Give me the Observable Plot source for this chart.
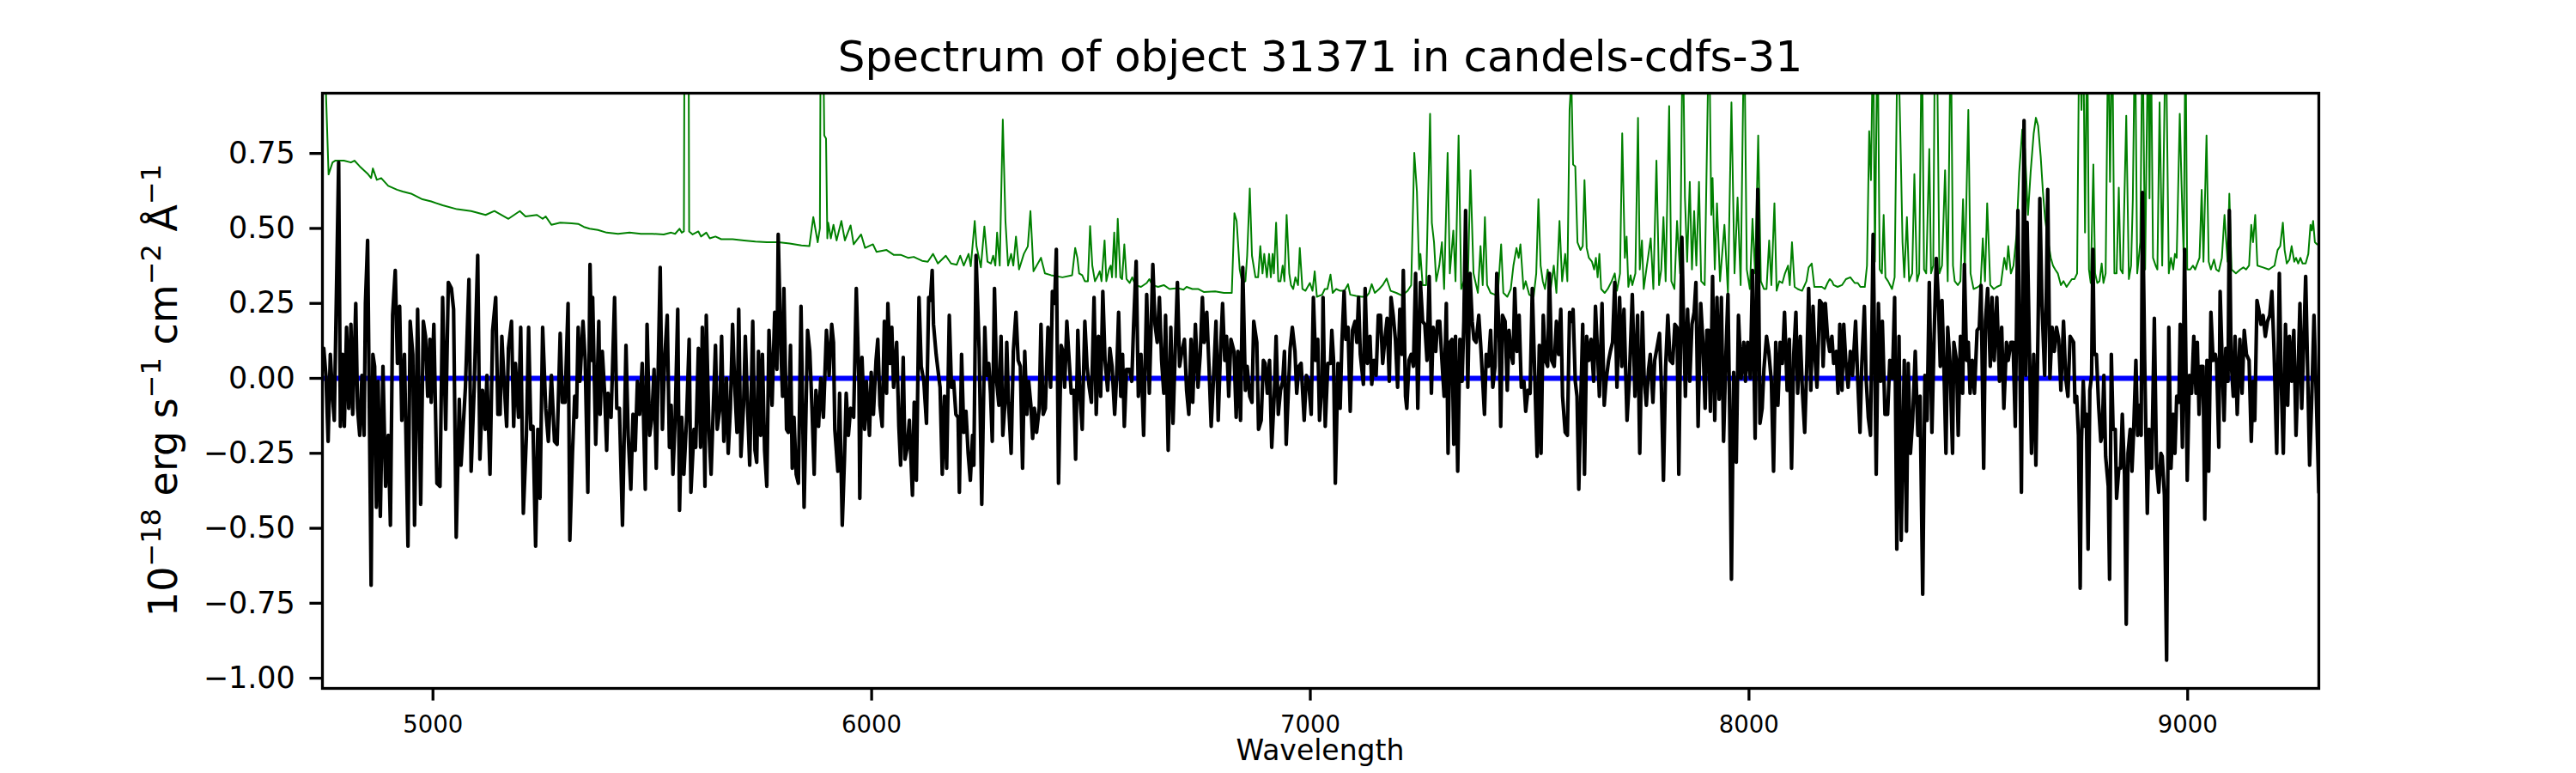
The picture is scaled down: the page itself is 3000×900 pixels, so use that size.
<!DOCTYPE html>
<html>
<head>
<meta charset="utf-8">
<script src="https://cdn.jsdelivr.net/npm/d3@7"></script>
<script src="https://cdn.jsdelivr.net/npm/@observablehq/plot@0.6"></script>
<style>
  html, body { margin: 0; padding: 0; background: white; }
  #chart svg { display: block; }
</style>
</head>
<body>
<div id="chart"></div>
<script>
// ---------- DATA ----------
const chartTitle = "Spectrum of object 31371 in candels-cdfs-31";
const xLabel = "Wavelength";
const xTicks = [5000, 6000, 7000, 8000, 9000];
const yTicks = [-1.0, -0.75, -0.5, -0.25, 0.0, 0.25, 0.5, 0.75];
const zeroLevel = [0];

// observed spectrum [wavelength, flux]
const observedSpectrum = [
[4751,0.10],[4756,0.01],[4761,-0.21],[4766,0.08],[4771,-0.06],[4775,-0.14],[4785,0.72],[4789,-0.16],[4794,0.08],[4798,-0.16],[4803,0.17],[4808,-0.10],[4813,0.18],[4817,-0.12],[4820,0.04],[4824,0.25],[4828,-0.10],[4833,-0.19],[4838,0.01],[4843,-0.19],[4846,0.25],[4851,0.46],[4854,0.04],[4859,-0.69],[4863,0.08],[4867,0.04],[4871,-0.43],[4875,-0.01],[4880,-0.46],[4886,0.04],[4892,-0.36],[4898,-0.19],[4903,-0.49],[4908,0.21],[4914,0.36],[4919,0.05],[4924,0.24],[4929,-0.14],[4935,0.08],[4943,-0.56],[4948,0.19],[4954,0.08],[4958,-0.49],[4965,0.23],[4972,-0.42],[4978,0.19],[4983,0.14],[4988,-0.06],[4993,0.13],[4996,-0.08],[5002,0.18],[5009,-0.35],[5016,-0.36],[5022,0.27],[5029,-0.17],[5035,0.32],[5042,0.30],[5047,0.23],[5053,-0.53],[5060,-0.07],[5064,-0.29],[5069,-0.16],[5074,-0.03],[5082,0.33],[5087,-0.31],[5094,-0.03],[5102,0.41],[5107,-0.27],[5113,-0.04],[5119,-0.17],[5123,0.01],[5130,-0.32],[5136,0.16],[5143,0.27],[5148,-0.12],[5153,-0.12],[5157,0.14],[5162,-0.01],[5168,-0.16],[5172,0.10],[5179,0.19],[5184,-0.16],[5188,0.05],[5195,-0.13],[5200,0.17],[5206,-0.45],[5213,-0.19],[5218,0.17],[5223,-0.17],[5228,-0.16],[5234,-0.56],[5239,-0.17],[5244,-0.40],[5250,0.17],[5257,-0.10],[5263,-0.21],[5270,0.01],[5277,-0.21],[5283,-0.22],[5290,0.15],[5295,-0.08],[5301,-0.08],[5308,0.25],[5312,-0.54],
[5318,-0.25],[5323,-0.06],[5327,-0.13],[5331,0.17],[5335,-0.01],[5342,0.19],[5347,0.06],[5353,-0.38],[5358,0.38],[5362,0.06],[5364,0.27],[5371,-0.22],[5378,0.19],[5381,-0.12],[5386,0.09],[5391,-0.04],[5396,-0.24],[5399,-0.05],[5406,-0.13],[5414,0.27],[5419,-0.10],[5425,-0.10],[5432,-0.49],[5440,0.11],[5445,-0.19],[5451,-0.37],[5456,-0.12],[5461,-0.24],[5466,-0.01],[5471,-0.12],[5477,0.05],[5484,-0.37],[5488,0.18],[5494,-0.19],[5499,-0.13],[5504,0.03],[5509,-0.30],[5513,0.00],[5518,0.37],[5523,-0.17],[5528,0.06],[5534,0.21],[5539,-0.23],[5543,-0.09],[5547,-0.32],[5552,-0.14],[5558,0.23],[5562,-0.44],[5567,-0.13],[5572,-0.32],[5578,-0.14],[5584,0.13],[5588,-0.38],[5595,-0.17],[5599,-0.23],[5605,0.10],[5610,-0.23],[5614,0.17],[5620,-0.36],[5623,0.21],[5629,-0.17],[5634,-0.32],[5639,-0.10],[5644,0.11],[5648,-0.17],[5654,-0.10],[5658,0.14],[5663,-0.21],[5669,0.00],[5673,-0.25],[5678,-0.10],[5683,0.18],[5688,-0.03],[5693,-0.18],[5697,0.23],[5702,-0.26],[5708,-0.09],[5712,0.14],[5717,-0.09],[5722,-0.29],[5729,0.19],[5734,-0.24],[5738,-0.28],[5742,0.09],[5747,-0.19],[5751,0.08],[5756,-0.24],[5761,-0.36],[5766,0.16],[5773,-0.09],[5779,0.22],[5784,0.03],[5787,0.48],[5793,0.10],[5797,-0.06],[5800,0.30],[5806,-0.17],[5810,-0.18],[5815,0.11],[5819,-0.30],[5823,-0.13],[5828,-0.32],[5833,-0.35],[5839,0.24],[5846,-0.43],[5854,0.16],[5859,0.09],[5864,-0.10],[5869,-0.32],[5873,-0.04],[5879,-0.16],[5884,0.00],
[5890,-0.13],[5897,0.16],[5903,0.01],[5909,0.18],[5913,0.12],[5916,-0.17],[5923,-0.31],[5927,-0.05],[5933,-0.49],[5938,-0.27],[5942,-0.05],[5947,-0.19],[5952,-0.10],[5959,-0.13],[5965,0.30],[5971,-0.01],[5973,-0.40],[5978,0.07],[5984,-0.17],[5988,-0.01],[5995,-0.19],[5999,0.02],[6004,-0.12],[6010,0.06],[6014,0.13],[6019,-0.09],[6024,-0.16],[6029,0.19],[6034,-0.05],[6037,0.25],[6042,0.05],[6046,0.17],[6050,-0.03],[6057,0.12],[6062,-0.16],[6066,-0.29],[6072,0.07],[6076,-0.27],[6081,-0.23],[6086,-0.14],[6093,-0.39],[6097,-0.08],[6102,-0.34],[6108,0.27],[6113,0.04],[6119,-0.01],[6125,-0.15],[6130,0.27],[6134,0.26],[6138,0.36],[6141,0.18],[6147,0.08],[6151,0.03],[6156,-0.03],[6161,-0.32],[6166,-0.06],[6171,-0.30],[6174,-0.04],[6177,0.21],[6182,-0.03],[6187,-0.01],[6192,-0.12],[6197,-0.13],[6200,-0.38],[6205,0.08],[6210,-0.18],[6215,-0.11],[6220,-0.25],[6225,-0.34],[6230,-0.19],[6233,-0.29],[6238,0.41],[6245,0.10],[6251,-0.42],[6258,0.17],[6262,0.01],[6267,0.05],[6271,-0.05],[6275,-0.21],[6280,0.30],[6285,-0.01],[6290,-0.09],[6295,0.14],[6299,-0.19],[6305,-0.06],[6308,0.12],[6312,-0.08],[6318,-0.25],[6323,0.09],[6329,0.22],[6334,0.06],[6339,0.04],[6344,-0.30],[6349,0.09],[6354,-0.12],[6358,-0.01],[6363,-0.09],[6367,-0.20],[6371,-0.10],[6376,-0.18],[6382,-0.10],[6386,0.18],[6391,-0.12],[6396,-0.10],[6402,0.17],[6408,-0.03],[6412,0.29],[6417,0.25],[6421,0.43],[6426,-0.35],[6432,0.11],[6436,0.09],[6440,-0.03],[6445,0.19],[6449,0.09],[6455,-0.05],
[6461,-0.04],[6465,-0.27],[6470,0.16],[6475,-0.06],[6480,-0.17],[6486,0.19],[6491,0.04],[6496,-0.03],[6501,-0.08],[6507,0.27],[6512,-0.12],[6517,0.14],[6522,-0.06],[6527,0.29],[6532,0.06],[6538,-0.04],[6543,0.10],[6548,0.04],[6554,-0.12],[6558,-0.01],[6563,0.22],[6568,-0.06],[6572,0.08],[6576,-0.16],[6581,0.03],[6588,0.03],[6593,-0.01],[6597,0.17],[6603,0.39],[6608,-0.06],[6614,0.08],[6620,-0.19],[6627,0.28],[6633,-0.05],[6641,0.38],[6646,0.18],[6651,0.12],[6656,0.27],[6661,0.06],[6666,-0.05],[6670,0.21],[6676,-0.24],[6682,0.17],[6687,-0.15],[6692,0.09],[6697,0.32],[6702,0.04],[6706,0.08],[6713,0.13],[6718,-0.04],[6723,-0.12],[6728,0.13],[6732,-0.08],[6738,0.18],[6744,-0.03],[6749,0.08],[6754,0.27],[6758,0.12],[6764,0.22],[6769,0.04],[6774,-0.16],[6779,-0.01],[6785,0.19],[6790,-0.14],[6795,0.08],[6800,0.25],[6805,0.06],[6809,0.14],[6814,-0.06],[6819,0.13],[6826,0.09],[6831,-0.13],[6835,0.09],[6841,-0.14],[6846,0.37],[6852,-0.04],[6856,0.04],[6862,-0.06],[6867,-0.08],[6871,0.19],[6878,0.12],[6882,-0.17],[6888,-0.14],[6893,0.06],[6897,0.05],[6902,-0.05],[6907,0.06],[6912,-0.23],[6918,-0.05],[6922,0.14],[6927,-0.12],[6932,-0.04],[6937,-0.01],[6941,0.09],[6945,-0.22],[6950,-0.04],[6954,0.10],[6959,0.17],[6965,0.09],[6969,-0.05],[6974,0.04],[6979,0.05],[6986,-0.14],[6991,0.01],[6996,-0.01],[7002,-0.12],[7007,0.27],[7012,0.06],[7017,0.13],[7021,-0.14],[7027,-0.01],
[7029,0.27],[7034,-0.16],[7040,0.05],[7046,0.05],[7049,0.16],[7053,0.06],[7057,-0.35],[7063,0.05],[7068,-0.10],[7072,0.12],[7077,0.29],[7081,0.13],[7086,0.17],[7091,-0.11],[7096,0.16],[7102,0.19],[7106,0.12],[7110,0.27],[7114,0.08],[7121,-0.02],[7125,0.30],[7130,0.05],[7136,0.14],[7140,-0.02],[7145,0.06],[7150,0.01],[7155,0.21],[7160,0.21],[7165,0.05],[7170,0.13],[7175,0.20],[7180,-0.01],[7184,0.27],[7189,0.21],[7194,0.13],[7199,-0.03],[7204,0.23],[7209,0.08],[7212,0.36],[7217,-0.06],[7220,-0.10],[7225,0.06],[7230,0.08],[7235,0.04],[7240,0.35],[7245,-0.10],[7251,0.32],[7256,0.19],[7261,0.18],[7266,0.06],[7271,0.34],[7276,-0.05],[7280,0.17],[7286,0.09],[7290,0.19],[7295,0.19],[7300,0.06],[7305,-0.06],[7310,0.25],[7314,-0.25],[7318,0.12],[7323,0.13],[7327,-0.22],[7331,0.14],[7336,-0.31],[7341,0.13],[7346,-0.01],[7350,0.19],[7354,0.56],[7359,-0.03],[7364,0.35],[7369,0.19],[7373,0.13],[7378,0.12],[7384,0.21],[7388,0.12],[7393,-0.01],[7397,-0.12],[7401,0.08],[7406,0.04],[7411,0.16],[7416,-0.03],[7421,0.04],[7425,0.35],[7431,0.12],[7434,-0.16],[7438,0.21],[7444,0.19],[7449,-0.04],[7453,0.16],[7458,0.08],[7462,0.05],[7466,0.30],[7471,0.09],[7476,0.21],[7481,-0.03],[7487,-0.01],[7491,-0.11],[7496,-0.04],[7501,-0.05],[7506,0.30],[7510,0.09],[7517,-0.26],[7522,0.11],[7526,-0.25],[7531,0.21],[7536,0.06],[7541,0.04],[7545,0.35],[7550,0.06],[7556,0.04],[7561,0.19],[7566,0.08],[7571,0.23],[7575,-0.06],[7581,-0.18],[7586,-0.19],[7591,0.22],[7596,0.19],
[7599,0.23],[7604,-0.01],[7608,-0.06],[7612,-0.37],[7617,-0.05],[7621,0.18],[7625,-0.32],[7630,0.14],[7635,0.06],[7640,0.13],[7646,-0.01],[7650,0.24],[7655,0.08],[7659,-0.06],[7665,0.25],[7670,-0.09],[7674,-0.01],[7680,0.06],[7684,0.09],[7689,0.12],[7694,0.32],[7699,-0.03],[7705,0.27],[7710,0.04],[7715,0.23],[7722,-0.14],[7727,-0.01],[7734,0.28],[7740,-0.06],[7746,0.21],[7751,-0.25],[7757,0.22],[7761,0.00],[7766,-0.09],[7771,0.03],[7775,0.08],[7781,-0.08],[7785,0.06],[7790,0.10],[7796,0.15],[7800,-0.01],[7805,-0.34],[7810,0.04],[7815,0.21],[7820,0.06],[7826,0.05],[7831,0.18],[7836,0.17],[7840,-0.32],[7847,0.47],[7850,0.25],[7855,-0.06],[7860,0.23],[7865,-0.01],[7870,0.18],[7875,0.22],[7879,0.32],[7884,-0.16],[7890,0.25],[7895,0.12],[7900,-0.10],[7904,0.16],[7908,0.16],[7912,-0.11],[7917,0.34],[7922,-0.14],[7927,0.27],[7932,-0.07],[7937,0.27],[7942,-0.21],[7947,0.06],[7952,0.28],[7956,-0.12],[7960,-0.67],[7965,0.02],[7971,-0.28],[7976,0.21],[7982,0.00],[7988,0.12],[7992,-0.01],[7997,0.12],[8003,0.00],[8008,0.36],[8014,-0.20],[8020,0.63],[8025,-0.15],[8030,-0.10],[8034,0.03],[8040,0.14],[8045,0.09],[8051,-0.01],[8056,-0.31],[8061,0.12],[8066,-0.09],[8071,0.12],[8076,0.05],[8081,0.22],[8087,-0.04],[8092,0.13],[8097,-0.30],[8102,0.08],[8107,0.22],[8111,-0.05],[8117,0.14],[8122,-0.05],[8127,-0.18],[8132,0.06],[8136,0.30],[8141,-0.04],[8146,0.24],[8151,0.06],[8155,-0.03],[8161,0.26],
[8166,0.25],[8169,0.04],[8174,0.25],[8179,0.14],[8184,0.09],[8189,0.14],[8193,0.05],[8199,0.09],[8203,-0.05],[8207,0.18],[8212,-0.04],[8216,0.18],[8221,0.05],[8226,-0.03],[8231,0.09],[8236,0.01],[8243,0.19],[8248,-0.01],[8253,-0.18],[8257,0.04],[8263,0.24],[8267,0.00],[8272,-0.13],[8277,-0.19],[8283,0.48],[8290,-0.32],[8295,0.25],[8300,-0.01],[8304,0.19],[8310,-0.12],[8316,-0.12],[8321,0.06],[8327,0.00],[8332,0.27],[8337,-0.57],[8342,0.14],[8347,-0.54],[8354,0.06],[8359,-0.51],[8363,0.05],[8368,-0.25],[8373,-0.14],[8379,0.09],[8385,-0.19],[8390,-0.06],[8396,-0.72],[8401,0.01],[8406,-0.14],[8411,0.32],[8417,-0.18],[8422,0.14],[8427,0.40],[8432,0.25],[8436,0.04],[8440,0.26],[8444,0.06],[8449,-0.25],[8453,0.17],[8458,0.06],[8464,-0.25],[8467,0.12],[8473,0.06],[8477,-0.19],[8482,0.14],[8487,-0.05],[8491,0.38],[8496,0.06],[8500,0.12],[8504,-0.05],[8509,0.06],[8514,-0.05],[8520,0.16],[8525,0.17],[8529,0.31],[8535,-0.30],[8539,0.19],[8544,0.30],[8550,0.04],[8554,0.27],[8559,0.06],[8565,0.27],[8571,-0.01],[8576,0.17],[8581,-0.10],[8587,0.12],[8591,0.06],[8597,0.12],[8602,0.12],[8607,-0.16],[8613,0.56],[8618,0.00],[8621,-0.38],[8627,0.86],[8631,0.01],[8634,0.52],[8639,0.12],[8644,-0.25],[8649,0.08],[8654,-0.29],[8659,0.17],[8663,0.60],[8668,0.24],[8674,0.01],[8678,0.30],[8681,0.63],[8686,0.00],[8691,0.17],[8696,0.09],[8701,0.17],[8706,0.13],[8711,-0.04],[8717,0.19],[8722,0.00],[8727,-0.06],[8732,0.14],
[8740,0.12],[8743,-0.08],[8747,-0.06],[8751,-0.19],[8755,-0.70],[8758,-0.21],[8762,-0.01],[8766,-0.16],[8769,-0.12],[8773,-0.57],[8777,-0.04],[8781,0.01],[8784,0.43],[8787,0.08],[8792,0.08],[8797,-0.09],[8802,-0.21],[8805,-0.19],[8809,0.01],[8813,-0.26],[8819,-0.36],[8822,-0.67],[8826,0.08],[8830,-0.17],[8835,-0.17],[8838,-0.40],[8843,-0.30],[8847,-0.30],[8851,-0.12],[8856,-0.32],[8860,-0.82],[8864,-0.25],[8869,-0.17],[8873,-0.31],[8877,-0.17],[8882,0.06],[8886,-0.19],[8890,-0.09],[8894,-0.19],[8897,0.62],[8902,0.06],[8908,-0.45],[8912,-0.17],[8918,-0.30],[8924,0.20],[8929,-0.29],[8934,-0.38],[8939,-0.25],[8942,-0.26],[8947,-0.39],[8952,-0.94],[8957,0.17],[8962,-0.30],[8967,-0.12],[8971,-0.25],[8975,-0.06],[8980,-0.08],[8983,0.18],[8988,-0.23],[8993,0.43],[8996,0.05],[8999,-0.34],[9004,0.01],[9009,-0.05],[9014,0.14],[9019,-0.05],[9022,0.12],[9026,-0.12],[9030,0.04],[9035,0.04],[9039,-0.47],[9044,0.06],[9048,-0.31],[9053,0.22],[9058,0.06],[9063,0.08],[9066,0.05],[9071,-0.23],[9074,0.29],[9080,-0.01],[9083,-0.14],[9087,0.10],[9092,-0.01],[9095,0.56],[9099,0.06],[9104,-0.06],[9108,0.14],[9113,-0.12],[9119,0.13],[9124,-0.05],[9129,0.16],[9134,0.08],[9140,0.06],[9145,-0.21],[9149,-0.01],[9153,-0.14],[9158,0.26],[9162,0.23],[9167,0.18],[9172,0.21],[9177,0.14],[9182,0.19],[9187,0.21],[9192,0.29],[9197,0.09],[9203,-0.25],[9209,0.35],[9213,0.00],[9218,-0.25],[9223,0.18],[9228,-0.09],[9232,0.14],[9237,-0.01],[9242,0.16],[9247,-0.19],[9252,0.04],[9256,0.25],[9260,-0.10],[9265,0.14],[9269,0.34],[9273,0.06],[9278,-0.29],[9283,-0.06],[9288,0.21],[9293,-0.05],[9299,-0.38]
];

// sky / noise spectrum [wavelength, flux]
const skySpectrum = [
[4749,1.5],[4755,1.0],[4762,0.68],[4771,0.72],[4777,0.726],[4797,0.726],[4813,0.72],[4821,0.726],[4833,0.707],[4852,0.681],[4859,0.668],[4863,0.70],[4872,0.662],[4882,0.668],[4898,0.642],[4918,0.629],[4931,0.623],[4950,0.616],[4976,0.597],[4996,0.59],[5022,0.577],[5055,0.564],[5087,0.558],[5120,0.545],[5140,0.558],[5172,0.532],[5198,0.558],[5211,0.54],[5237,0.545],[5250,0.532],[5257,0.54],[5270,0.512],[5290,0.519],[5316,0.517],
[5331,0.515],[5344,0.505],[5357,0.499],[5376,0.495],[5396,0.486],[5422,0.482],[5448,0.486],[5474,0.482],[5500,0.482],[5526,0.48],[5543,0.486],[5552,0.482],[5562,0.499],[5567,0.486],[5572,0.49],[5574,1.5],[5578,3.0],[5582,1.5],[5584,0.49],[5592,0.48],[5605,0.49],[5611,0.473],[5623,0.486],[5631,0.467],[5644,0.473],[5657,0.464],[5683,0.464],[5709,0.46],[5735,0.456],[5761,0.454],[5787,0.454],[5813,0.45],[5840,0.443],[5858,0.441],[5867,0.538],[5877,0.454],[5882,0.5],[5886,2.0],[5889,1.2],[5892,0.81],[5896,0.80],[5899,0.467],
[5901,0.519],[5907,0.467],[5913,0.512],[5920,0.46],[5931,0.525],[5939,0.46],[5952,0.51],[5959,0.447],[5976,0.48],[5985,0.435],[6003,0.447],[6011,0.422],[6034,0.428],[6050,0.412],[6066,0.412],[6083,0.402],[6096,0.405],[6115,0.392],[6128,0.389],[6140,0.415],[6151,0.383],[6169,0.409],[6181,0.383],[6194,0.379],[6202,0.409],[6210,0.376],[6221,0.415],[6226,0.374],[6235,0.525],[6239,0.441],[6249,0.37],[6257,0.506],[6264,0.389],[6272,0.383],[6277,0.409],[6282,0.376],[6286,0.486],[6292,0.376],[6299,0.863],[6305,0.525],[6311,0.376],[6318,0.415],[6323,0.376],[6329,0.473],[6336,0.363],[6347,0.415],[6356,0.44],[6362,0.558],[6369,0.357],[6386,0.402],[6395,0.35],[6409,0.344],[6435,0.337],[6457,0.344],
[6464,0.435],[6469,0.402],[6473,0.35],[6480,0.344],[6486,0.324],[6493,0.324],[6498,0.508],[6503,0.376],[6509,0.324],[6514,0.337],[6520,0.357],[6524,0.324],[6531,0.46],[6535,0.324],[6541,0.363],[6545,0.376],[6548,0.337],[6553,0.486],[6557,0.337],[6561,0.532],[6567,0.337],[6571,0.331],[6576,0.447],[6581,0.331],[6588,0.318],[6594,0.337],[6601,0.311],[6614,0.305],[6627,0.318],[6633,0.331],[6640,0.311],[6653,0.305],[6666,0.311],[6679,0.298],[6698,0.301],[6711,0.296],[6718,0.305],[6731,0.298],[6744,0.298],[6757,0.288],[6783,0.29],[6803,0.285],[6821,0.285],[6827,0.551],[6832,0.525],[6839,0.363],[6845,0.318],[6852,0.324],[6856,0.409],[6862,0.633],[6867,0.409],[6875,0.337],[6881,0.337],[6886,0.441],[6891,0.35],[6895,0.415],[6901,0.337],[6906,0.415],[6910,0.337],[6914,0.415],[6917,0.35],[6922,0.519],[6927,0.324],[6932,0.324],[6937,0.376],[6941,0.324],[6946,0.545],[6952,0.35],[6956,0.311],[6961,0.298],[6966,0.337],[6972,0.311],[6976,0.435],[6982,0.298],[6989,0.292],[6999,0.318],[7005,0.292],[7010,0.357],[7015,0.272],[7027,0.279],
[7033,0.298],[7039,0.298],[7046,0.346],[7051,0.285],[7059,0.298],[7068,0.292],[7078,0.292],[7086,0.314],[7091,0.279],[7104,0.275],[7117,0.272],[7127,0.272],[7134,0.285],[7140,0.314],[7147,0.285],[7157,0.298],[7165,0.311],[7174,0.333],[7183,0.292],[7196,0.285],[7209,0.276],[7222,0.292],[7230,0.311],[7237,0.752],[7243,0.623],[7248,0.363],[7251,0.415],[7256,0.311],[7264,0.311],[7273,0.882],[7277,0.519],[7282,0.454],[7287,0.324],[7294,0.376],[7300,0.454],[7305,0.298],[7313,0.752],[7318,0.35],[7326,0.493],[7331,0.324],[7338,0.81],[7344,0.298],[7350,0.324],[7359,0.311],[7365,0.694],[7372,0.35],[7382,0.285],[7388,0.441],[7393,0.311],[7398,0.538],[7403,0.311],[7411,0.285],[7421,0.279],[7427,0.272],[7435,0.447],[7440,0.285],[7449,0.272],[7457,0.298],[7463,0.376],[7470,0.435],[7475,0.402],[7479,0.447],[7486,0.298],[7491,0.324],[7499,0.279],[7509,0.272],[7515,0.35],[7520,0.597],[7525,0.376],[7530,0.324],[7535,0.298],[7541,0.363],[7548,0.298],[7555,0.376],[7561,0.285],[7568,0.525],[7574,0.324],[7581,0.415],[7586,0.324],[7591,0.895],[7595,1.0],
[7599,0.713],[7604,0.707],[7609,0.454],[7616,0.428],[7621,0.441],[7625,0.661],[7630,0.435],[7635,0.402],[7642,0.389],[7647,0.363],[7651,0.402],[7655,0.337],[7659,0.415],[7663,0.298],[7671,0.285],[7678,0.298],[7687,0.324],[7694,0.35],[7699,0.292],[7706,0.35],[7711,0.817],[7717,0.402],[7721,0.473],[7725,0.305],[7730,0.344],[7734,0.311],[7741,0.35],[7747,0.869],[7751,0.363],[7756,0.46],[7760,0.298],[7766,0.363],[7771,0.415],[7776,0.467],[7782,0.298],[7789,0.726],[7795,0.311],[7800,0.363],[7805,0.538],[7810,0.324],[7818,0.908],[7823,0.324],[7830,0.298],[7836,0.525],[7843,0.35],[7849,1.2],[7854,0.603],[7859,0.389],[7865,0.655],[7870,0.363],[7875,0.558],[7880,0.376],[7886,0.655],[7891,0.324],[7899,0.311],[7909,1.2],[7914,0.545],[7917,0.668],[7922,0.363],[7927,0.584],[7934,0.324],[7944,0.512],[7952,0.285],[7960,0.92],[7967,0.35],[7974,0.603],[7981,0.311],[7989,1.2],[7995,0.363],[8002,0.298],[8008,0.532],[8014,0.35],[8021,0.81],[8027,0.324],[8034,0.298],[8040,0.298],[8046,0.46],[8051,0.311],[8058,0.584],[8063,0.292],[8069,0.324],[8076,0.318],[8082,0.35],[8089,0.376],[8093,0.311],[8098,0.454],[8104,0.305],[8111,0.298],[8121,0.292],[8131,0.324],[8136,0.37],[8143,0.383],[8149,0.305],[8157,0.305],[8166,0.305],
[8173,0.298],[8179,0.318],[8184,0.331],[8189,0.324],[8193,0.311],[8202,0.305],[8212,0.311],[8221,0.331],[8231,0.337],[8241,0.318],[8248,0.318],[8254,0.305],[8264,0.305],[8269,0.376],[8274,0.824],[8278,0.661],[8283,1.2],[8287,0.389],[8293,1.2],[8298,0.363],[8303,0.35],[8307,0.545],[8311,0.337],[8317,0.324],[8326,0.298],[8332,0.337],[8339,1.2],[8345,0.817],[8350,0.454],[8354,0.337],[8360,0.538],[8365,0.324],[8372,0.35],[8377,0.681],[8383,0.324],[8388,0.35],[8394,1.2],[8399,0.363],[8404,0.35],[8411,0.765],[8415,0.35],[8420,0.376],[8424,1.2],[8426,1.5],[8428,1.2],[8434,0.35],[8440,0.376],[8447,0.694],[8453,0.324],[8460,1.2],[8465,0.376],[8469,0.324],[8476,0.311],[8482,0.324],[8488,0.597],[8492,0.35],[8500,0.895],[8505,0.35],[8512,0.298],[8522,0.305],[8528,0.311],[8533,0.467],[8538,0.324],[8543,0.584],[8550,0.311],[8558,0.298],[8565,0.305],[8574,0.311],[8582,0.402],[8587,0.363],[8591,0.441],[8597,0.35],[8603,0.376],[8610,0.48],[8616,0.687],[8623,0.83],[8629,0.765],[8636,0.545],[8642,0.687],[8649,0.817],[8654,0.869],[8659,0.843],[8665,0.739],[8670,0.623],[8675,0.532],[8681,0.467],[8688,0.402],[8693,0.376],[8698,0.363],[8704,0.35],[8711,0.311],[8717,0.324],[8724,0.305],[8730,0.318],[8736,0.331],
[8742,0.331],[8748,0.35],[8753,1.2],[8758,0.895],[8762,1.2],[8766,0.486],[8771,1.2],[8775,0.363],[8779,0.318],[8785,0.713],[8789,0.35],[8794,0.318],[8799,0.324],[8804,0.383],[8808,0.318],[8813,0.35],[8819,1.2],[8823,0.655],[8828,1.2],[8833,0.35],[8838,0.35],[8843,0.636],[8847,0.363],[8852,0.35],[8860,0.876],[8866,0.331],[8871,0.376],[8875,0.597],[8880,1.2],[8885,0.35],[8892,0.454],[8897,1.2],[8903,0.363],[8910,1.2],[8913,0.6],[8916,1.2],[8921,0.402],[8927,0.376],[8931,0.363],[8936,0.92],[8942,0.376],[8950,1.2],[8957,0.35],[8962,0.402],[8967,0.363],[8971,0.415],[8975,0.402],[8982,0.882],[8986,0.648],[8991,0.402],[8995,1.2],[8999,0.363],[9006,0.363],[9012,0.376],[9017,0.363],[9022,0.383],[9027,0.402],[9032,0.629],[9036,0.389],[9043,0.81],[9048,0.389],[9053,0.363],[9060,0.396],[9065,0.363],[9071,0.357],[9078,0.402],[9084,0.545],[9091,0.389],[9095,0.616],[9100,0.363],[9110,0.35],[9120,0.363],[9127,0.37],[9133,0.363],[9140,0.376],[9145,0.512],[9149,0.454],[9154,0.545],[9159,0.376],[9172,0.37],[9185,0.363],[9198,0.376],[9205,0.428],[9211,0.441],[9217,0.519],[9221,0.428],[9226,0.383],[9232,0.396],[9237,0.441],[9243,0.389],[9247,0.402],[9252,0.383],[9257,0.402],[9262,0.383],[9269,0.383],[9275,0.415],[9280,0.512],[9283,0.493],[9286,0.525],[9290,0.454],[9295,0.447],[9299,0.447]
];

// ---------- CHART ----------
const FONT = "DejaVu Sans";
const W = 3000, H = 900;
const mL = 375, mR = 300, mT = 108, mB = 99;

const chart = Plot.plot({
  width: W,
  height: H,
  marginLeft: mL,
  marginRight: mR,
  marginTop: mT,
  marginBottom: mB,
  style: { fontFamily: FONT, background: "white", color: "black", overflow: "visible" },
  x: { domain: [4748, 9299] },
  y: { domain: [-1.034, 0.951] },
  marks: [
    Plot.line(skySpectrum, { x: d => d[0], y: d => d[1], stroke: "#008000", strokeWidth: 2, clip: true }),
    Plot.ruleY(zeroLevel, { stroke: "#0000ff", strokeWidth: 6.2 }),
    Plot.line(observedSpectrum, { x: d => d[0], y: d => d[1], stroke: "#000000", strokeWidth: 4.2, clip: true }),
    Plot.frame({ stroke: "black", strokeWidth: 3.3 }),
    Plot.axisX({ ticks: xTicks, tickFormat: d3.format("d"), tickSize: 14.6, tickPadding: 17, fontSize: 27.5, strokeWidth: 3.3, label: null }),
    Plot.axisY({ ticks: yTicks, tickFormat: d3.format(".2f"), tickSize: 14.6, tickPadding: 17, fontSize: 35, strokeWidth: 3.3, label: null })
  ]
});

const svg = d3.select(chart);
const cx = mL + (W - mL - mR) / 2;
const cy = mT + (H - mT - mB) / 2;

svg.append("text")
  .attr("x", cx).attr("y", 83)
  .attr("text-anchor", "middle")
  .attr("style", `font-family:${FONT};font-size:50px;fill:black`)
  .text(chartTitle);

svg.append("text")
  .attr("x", cx).attr("y", 885)
  .attr("text-anchor", "middle")
  .attr("style", `font-family:${FONT};font-size:33px;fill:black`)
  .text(xLabel);

// y label with superscripts
const yl = svg.append("text")
  .attr("transform", `translate(206,${cy}) rotate(-90)`)
  .attr("text-anchor", "middle")
  .attr("style", `font-family:${FONT};font-size:46px;fill:black`);
const parts = [
  ["10", false], ["\u221218", true], [" erg s", false], ["\u22121", true],
  [" cm", false], ["\u22122", true], [" \u00C5", false], ["\u22121", true]
];
let raised = false;
for (const [t, sup] of parts) {
  const ts = yl.append("tspan").text(t);
  if (sup && !raised) { ts.attr("dy", -19).attr("style", "font-size:32px"); raised = true; }
  else if (sup) { ts.attr("style", "font-size:32px"); }
  else if (!sup && raised) { ts.attr("dy", 19); raised = false; }
}

document.getElementById("chart").appendChild(chart);
</script>
</body>
</html>
